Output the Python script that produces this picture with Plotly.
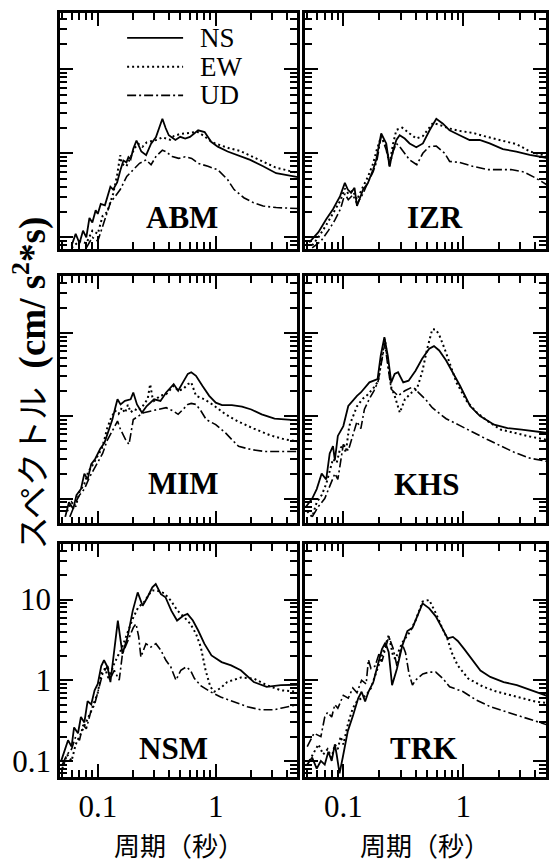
import plotly.graph_objects as go

# ---------------- data (period s, spectrum cm/s^2*s) ----------------
abm_ns_T = [0.06,0.065,0.07,0.075,0.08,0.085,0.09,0.096,0.10,0.106,0.115,0.128,0.135,0.146,0.155,0.165,0.175,0.182,0.19,0.20,0.213,0.225,0.234,0.257,0.27,0.283,0.311,0.332,0.353,0.376,0.40,0.455,0.50,0.551,0.605,0.709,0.805,0.914,1.04,1.26,1.52,1.96,2.52,3.25,5.0]
abm_ns_V = [0.08,0.11,0.085,0.12,0.10,0.17,0.15,0.21,0.19,0.25,0.24,0.40,0.37,0.45,0.62,0.82,0.78,0.90,0.85,1.13,1.42,1.15,1.05,0.95,1.15,1.30,1.55,2.06,2.58,2.0,1.64,1.44,1.57,1.50,1.57,1.88,1.79,1.37,1.20,1.05,0.96,0.835,0.70,0.58,0.52]
abm_ew_T = [0.06,0.07,0.08,0.09,0.10,0.11,0.12,0.135,0.146,0.155,0.16,0.175,0.19,0.205,0.22,0.24,0.26,0.29,0.32,0.353,0.38,0.41,0.44,0.50,0.60,0.70,0.80,0.90,1.0,1.3,1.6,2.0,2.5,3.2,5.0]
abm_ew_V = [0.075,0.09,0.085,0.12,0.11,0.18,0.20,0.33,0.55,0.95,0.75,0.70,0.90,1.15,1.30,1.20,1.35,1.40,1.45,1.55,1.50,1.45,1.60,1.70,1.75,1.80,1.60,1.40,1.30,1.15,1.07,0.92,0.80,0.68,0.58]
abm_ud_T = [0.08,0.09,0.10,0.106,0.128,0.155,0.176,0.20,0.226,0.257,0.283,0.311,0.353,0.376,0.428,0.485,0.551,0.625,0.709,0.859,1.04,1.26,1.43,1.73,2.09,2.52,3.25,5.0]
abm_ud_V = [0.075,0.10,0.09,0.115,0.258,0.37,0.53,0.637,0.76,0.835,0.73,0.914,1.09,1.05,0.914,0.87,0.91,0.87,0.76,0.70,0.637,0.486,0.37,0.296,0.258,0.236,0.226,0.22]

izr_ns_T = [0.052,0.062,0.072,0.082,0.094,0.103,0.109,0.116,0.124,0.13,0.146,0.16,0.177,0.188,0.207,0.228,0.243,0.26,0.277,0.295,0.325,0.357,0.406,0.461,0.524,0.596,0.677,0.769,0.932,1.13,1.37,1.66,2.14,2.77,3.58,5.0]
izr_ns_V = [0.087,0.115,0.164,0.216,0.309,0.444,0.37,0.338,0.388,0.236,0.37,0.44,0.637,0.835,1.72,1.31,0.697,1.09,1.44,1.64,1.50,1.31,1.18,1.31,1.88,2.58,2.25,1.88,1.64,1.44,1.44,1.31,1.12,1.05,0.96,0.88]
izr_ew_T = [0.055,0.062,0.072,0.082,0.094,0.103,0.11,0.12,0.13,0.146,0.16,0.177,0.19,0.207,0.228,0.243,0.26,0.277,0.31,0.357,0.406,0.46,0.52,0.56,0.62,0.77,0.93,1.2,1.5,2.0,2.8,3.6,5.0]
izr_ew_V = [0.08,0.10,0.14,0.19,0.27,0.38,0.33,0.36,0.28,0.40,0.52,0.75,1.1,1.6,1.2,0.75,1.3,1.9,2.02,1.72,1.50,1.60,2.0,2.3,2.2,1.97,1.85,1.75,1.6,1.45,1.28,1.05,0.92]
izr_ud_T = [0.055,0.065,0.075,0.085,0.095,0.103,0.11,0.12,0.13,0.146,0.16,0.177,0.19,0.207,0.228,0.243,0.26,0.277,0.295,0.357,0.41,0.46,0.52,0.596,0.70,0.77,0.93,1.2,1.6,2.5,3.2,4.0,5.0]
izr_ud_V = [0.075,0.09,0.12,0.16,0.22,0.33,0.28,0.32,0.25,0.33,0.45,0.60,0.80,1.6,1.1,0.70,1.05,1.31,1.2,0.835,0.73,1.0,1.2,1.22,1.0,0.80,0.78,0.70,0.64,0.64,0.60,0.51,0.42]

mim_ns_T = [0.053,0.057,0.062,0.066,0.072,0.077,0.082,0.088,0.095,0.105,0.114,0.125,0.133,0.142,0.147,0.156,0.17,0.19,0.20,0.215,0.237,0.26,0.30,0.34,0.38,0.44,0.48,0.527,0.58,0.62,0.68,0.77,0.88,1.0,1.13,1.37,1.67,2.0,2.45,3.15,5.0]
mim_ns_V = [0.06,0.09,0.075,0.11,0.13,0.20,0.17,0.26,0.30,0.40,0.47,0.68,0.90,1.31,1.58,1.37,1.51,1.58,1.91,1.37,1.09,1.31,1.58,1.51,1.91,2.41,2.0,2.53,3.2,3.35,3.04,2.30,1.74,1.44,1.34,1.34,1.29,1.19,1.04,0.92,0.88]
mim_ew_T = [0.055,0.06,0.065,0.07,0.077,0.083,0.09,0.10,0.108,0.114,0.12,0.13,0.14,0.15,0.16,0.17,0.18,0.19,0.205,0.22,0.24,0.265,0.278,0.29,0.30,0.34,0.38,0.44,0.48,0.53,0.58,0.62,0.68,0.80,0.95,1.2,1.55,2.1,2.9,3.8,5.0]
mim_ew_V = [0.07,0.09,0.08,0.12,0.15,0.21,0.25,0.33,0.40,0.52,0.70,0.95,1.15,1.05,1.25,1.08,1.35,1.10,1.20,1.15,1.30,1.60,2.4,1.70,1.51,1.75,1.82,2.3,2.0,2.1,2.4,2.53,1.74,1.58,1.35,1.05,0.85,0.70,0.58,0.52,0.49]
mim_ud_T = [0.058,0.065,0.07,0.077,0.085,0.092,0.10,0.11,0.12,0.13,0.14,0.147,0.156,0.172,0.184,0.20,0.245,0.316,0.38,0.436,0.48,0.527,0.58,0.62,0.68,0.75,0.83,1.0,1.21,1.37,1.56,2.0,2.6,3.4,5.0]
mim_ud_V = [0.06,0.09,0.11,0.13,0.18,0.22,0.27,0.35,0.50,0.62,0.75,0.86,0.68,0.515,0.45,0.90,1.09,1.19,1.25,1.14,1.04,1.19,1.37,1.41,1.37,1.14,0.90,0.78,0.62,0.515,0.427,0.39,0.37,0.37,0.37]

khs_ns_T = [0.049,0.055,0.06,0.066,0.072,0.077,0.082,0.085,0.09,0.10,0.11,0.116,0.13,0.14,0.155,0.165,0.193,0.205,0.22,0.235,0.251,0.268,0.286,0.316,0.35,0.40,0.454,0.52,0.57,0.63,0.72,0.82,0.94,1.14,1.38,1.81,2.34,3.07,4.0,5.0]
khs_ns_V = [0.08,0.10,0.13,0.20,0.17,0.35,0.43,0.29,0.57,0.75,1.31,1.44,1.74,1.91,2.30,2.53,2.77,5.3,8.9,5.3,2.53,3.19,3.35,2.53,2.65,3.5,4.87,6.45,6.93,6.14,4.64,3.35,2.30,1.31,0.99,0.78,0.71,0.68,0.65,0.62]
khs_ew_T = [0.05,0.055,0.06,0.066,0.072,0.077,0.082,0.088,0.094,0.10,0.105,0.112,0.12,0.13,0.145,0.16,0.18,0.195,0.21,0.222,0.235,0.251,0.268,0.296,0.326,0.372,0.41,0.454,0.50,0.552,0.59,0.63,0.70,0.77,0.88,1.07,1.3,1.6,2.05,2.7,3.6,5.0]
khs_ew_V = [0.07,0.06,0.09,0.11,0.15,0.22,0.30,0.27,0.40,0.45,0.36,0.75,0.95,1.3,1.6,1.8,2.2,2.6,5.0,8.5,4.5,2.2,1.74,1.09,1.58,1.91,2.1,3.35,6.4,11.1,11.0,9.5,6.4,4.4,2.5,1.5,1.09,0.86,0.68,0.62,0.56,0.51]
khs_ud_T = [0.055,0.062,0.07,0.077,0.085,0.09,0.095,0.10,0.11,0.12,0.13,0.14,0.15,0.165,0.18,0.195,0.21,0.222,0.235,0.251,0.286,0.326,0.372,0.40,0.424,0.484,0.552,0.64,0.72,0.94,1.22,1.59,2.07,2.68,3.5,5.0]
khs_ud_V = [0.06,0.08,0.10,0.14,0.20,0.17,0.30,0.45,0.38,0.60,0.85,0.70,1.2,1.6,2.0,2.6,4.5,7.5,4.0,2.09,1.74,2.0,2.2,2.1,1.9,1.58,1.25,1.05,0.92,0.76,0.62,0.515,0.43,0.36,0.31,0.28]

nsm_ns_T = [0.049,0.052,0.056,0.06,0.063,0.068,0.072,0.077,0.082,0.088,0.094,0.10,0.107,0.113,0.121,0.128,0.138,0.148,0.162,0.179,0.198,0.218,0.24,0.264,0.29,0.31,0.343,0.375,0.42,0.47,0.53,0.576,0.64,0.71,0.80,0.92,1.12,1.35,1.63,2.1,2.7,3.56,5.0]
nsm_ns_V = [0.10,0.13,0.18,0.15,0.26,0.22,0.35,0.30,0.55,0.50,0.75,0.90,1.5,1.77,1.46,0.95,2.35,5.5,2.13,3.43,7.3,12.3,8.4,10.7,14.2,15.6,11.7,10.7,7.3,5.5,6.3,6.65,5.5,4.14,2.84,2.03,1.68,1.53,1.33,0.95,0.83,0.87,0.88]
nsm_ew_T = [0.05,0.055,0.06,0.065,0.07,0.075,0.08,0.087,0.094,0.10,0.107,0.115,0.125,0.135,0.148,0.16,0.18,0.20,0.22,0.25,0.27,0.292,0.32,0.343,0.366,0.416,0.474,0.54,0.61,0.68,0.747,0.82,0.90,0.97,1.1,1.25,1.63,2.1,2.7,3.56,5.0]
nsm_ew_V = [0.08,0.12,0.10,0.16,0.20,0.25,0.30,0.40,0.55,0.70,1.2,1.4,1.0,1.5,2.0,2.5,4.0,6.0,8.0,9.5,11.5,13.0,12.9,12.3,12.0,9.72,7.3,6.05,5.0,3.77,2.58,1.33,0.83,0.72,0.80,0.95,1.08,1.05,0.87,0.75,0.72]
nsm_ud_T = [0.05,0.055,0.06,0.065,0.07,0.075,0.08,0.087,0.094,0.10,0.11,0.121,0.13,0.138,0.152,0.162,0.179,0.20,0.211,0.222,0.232,0.256,0.282,0.311,0.343,0.378,0.416,0.46,0.506,0.56,0.61,0.66,0.75,0.90,1.1,1.43,1.85,2.4,3.1,3.56,5.0]
nsm_ud_V = [0.09,0.12,0.14,0.20,0.18,0.28,0.25,0.40,0.50,0.70,1.2,1.5,1.1,1.33,1.0,2.13,3.12,4.5,5.0,3.5,1.94,2.84,2.58,2.84,2.35,1.77,1.46,1.0,1.33,1.46,1.33,1.05,0.85,0.72,0.62,0.54,0.47,0.43,0.43,0.45,0.50]

trk_ns_T = [0.05,0.055,0.06,0.065,0.07,0.075,0.08,0.085,0.088,0.093,0.099,0.109,0.121,0.133,0.142,0.152,0.162,0.178,0.19,0.21,0.224,0.239,0.255,0.28,0.31,0.342,0.377,0.416,0.458,0.52,0.59,0.676,0.74,0.82,0.90,1.02,1.18,1.39,1.68,2.17,2.8,3.66,5.0]
trk_ns_V = [0.09,0.11,0.08,0.10,0.09,0.13,0.10,0.16,0.12,0.07,0.111,0.234,0.374,0.598,0.72,0.544,0.72,0.95,1.39,2.43,2.93,2.22,0.87,1.39,2.67,4.07,4.47,6.2,9.0,7.8,6.2,4.27,3.3,3.45,3.07,2.43,1.84,1.32,1.10,0.95,0.87,0.76,0.64]
trk_ew_T = [0.052,0.057,0.062,0.068,0.074,0.08,0.085,0.09,0.095,0.10,0.11,0.12,0.13,0.142,0.155,0.17,0.19,0.21,0.239,0.26,0.272,0.31,0.36,0.40,0.458,0.52,0.59,0.676,0.74,0.80,0.90,1.1,1.47,1.91,2.8,4.0,5.0]
trk_ew_V = [0.10,0.13,0.16,0.12,0.14,0.11,0.16,0.14,0.20,0.16,0.30,0.45,0.55,0.60,0.65,0.80,1.3,2.0,3.6,2.0,1.84,2.93,4.0,5.5,9.46,9.9,6.81,4.27,3.22,2.22,1.52,1.05,0.83,0.72,0.63,0.545,0.52]
trk_ud_T = [0.05,0.057,0.065,0.07,0.074,0.08,0.085,0.09,0.10,0.11,0.12,0.13,0.142,0.155,0.162,0.17,0.184,0.20,0.21,0.239,0.26,0.28,0.31,0.33,0.353,0.377,0.40,0.46,0.52,0.59,0.676,0.77,1.0,1.28,1.68,2.8,5.0]
trk_ud_V = [0.15,0.22,0.20,0.35,0.40,0.35,0.50,0.45,0.65,0.60,0.80,0.70,1.0,0.90,1.8,1.4,1.5,2.2,1.7,3.5,2.5,1.5,2.8,2.2,1.2,0.87,1.0,1.2,1.26,1.26,1.05,0.83,0.72,0.57,0.47,0.37,0.28]

station_names = ["ABM", "IZR", "MIM", "KHS", "NSM", "TRK"]
component_names = ["NS", "EW", "UD"]
x_tick_values = [0.1, 1]
y_tick_values = [0.1, 1, 10]

panels = [
    [(abm_ns_T, abm_ns_V), (abm_ew_T, abm_ew_V), (abm_ud_T, abm_ud_V)],
    [(izr_ns_T, izr_ns_V), (izr_ew_T, izr_ew_V), (izr_ud_T, izr_ud_V)],
    [(mim_ns_T, mim_ns_V), (mim_ew_T, mim_ew_V), (mim_ud_T, mim_ud_V)],
    [(khs_ns_T, khs_ns_V), (khs_ew_T, khs_ew_V), (khs_ud_T, khs_ud_V)],
    [(nsm_ns_T, nsm_ns_V), (nsm_ew_T, nsm_ew_V), (nsm_ud_T, nsm_ud_V)],
    [(trk_ns_T, trk_ns_V), (trk_ew_T, trk_ew_V), (trk_ud_T, trk_ud_V)],
]

# ---------------- styling / layout ----------------
line_styles = [
    dict(color="black", width=1.8, dash="solid"),
    dict(color="black", width=2.0, dash="2px,3px"),
    dict(color="black", width=1.6, dash="9px,3px,2px,3px"),
]
col_domains = [[0.0, 0.488], [0.504, 1.0]]
row_domains = [[0.691, 1.0], [0.332, 0.656], [0.0, 0.305]]
row_yranges = [[-1.14, 1.67], [-1.30, 1.69], [-1.20, 1.69]]
x_range = [-1.32, 0.69]
label_pos = [(0.515, 0.134), (0.54, 0.134), (0.52, 0.16), (0.506, 0.157), (0.477, 0.124), (0.49, 0.124)]

SERIF = "Liberation Serif, Times New Roman, serif"
CJK = "Noto Sans CJK JP"

fig = go.Figure()
layout = dict(
    width=560, height=863,
    margin=dict(l=60, r=14, t=10, b=86),
    paper_bgcolor="white", plot_bgcolor="white",
    showlegend=False,
    annotations=[], shapes=[],
)

for i, series in enumerate(panels):
    r, c = divmod(i, 2)
    k = i + 1
    xa = "x" if k == 1 else f"x{k}"
    ya = "y" if k == 1 else f"y{k}"
    for j, (T, V) in enumerate(series):
        fig.add_trace(go.Scatter(x=T, y=V, mode="lines", line=line_styles[j],
                                 name=component_names[j], xaxis=xa, yaxis=ya,
                                 hoverinfo="skip"))
    common = dict(type="log", showline=True, linewidth=2.5, linecolor="black",
                  mirror="allticks", ticks="inside", tickwidth=1.8, ticklen=13,
                  tickcolor="black", showgrid=False, zeroline=False,
                  tickfont=dict(family=SERIF, size=31, color="black"),
                  minor=dict(ticks="inside", ticklen=7, tickwidth=1.5,
                             tickcolor="black", showgrid=False))
    xkey = "xaxis" if k == 1 else f"xaxis{k}"
    ykey = "yaxis" if k == 1 else f"yaxis{k}"
    layout[xkey] = dict(common, domain=col_domains[c], range=x_range,
                        anchor=ya, tickmode="array", tickvals=x_tick_values,
                        ticktext=["0.1", "1"], showticklabels=(r == 2))
    layout[ykey] = dict(common, domain=row_domains[r], range=row_yranges[r],
                        anchor=xa, tickmode="array", tickvals=y_tick_values,
                        ticktext=["0.1", "1", "10"],
                        showticklabels=(r == 2 and c == 0))
    layout[xkey]["minor"] = dict(common["minor"], tickmode="array",
                                 tickvals=[0.05, 0.06, 0.07, 0.08, 0.09, 0.2, 0.3, 0.4, 0.5, 0.6, 0.7, 0.8, 0.9, 2, 3, 4, 5])
    layout[ykey]["minor"] = dict(common["minor"], tickmode="array",
                                 tickvals=[0.07, 0.08, 0.09, 0.2, 0.3, 0.4, 0.5, 0.6, 0.7, 0.8, 0.9,
                                           2, 3, 4, 5, 6, 7, 8, 9, 20, 30, 40])
    lx, ly = label_pos[i]
    layout["annotations"].append(dict(
        text=f"<b>{station_names[i]}</b>", x=lx, y=ly,
        xref=f"{xa} domain", yref=f"{ya} domain", showarrow=False,
        xanchor="center", yanchor="middle",
        font=dict(family=SERIF, size=31, color="black")))
    if r == 2:
        layout["annotations"].append(dict(
            text="周期（秒）", x=0.5, y=-0.29, xref=f"{xa} domain",
            yref=f"{ya} domain", showarrow=False, xanchor="center",
            yanchor="middle", font=dict(family=CJK, size=26, color="black")))

# legend inside the ABM panel
leg_y = [0.895, 0.772, 0.651]
for j in range(3):
    layout["shapes"].append(dict(type="line", xref="x domain", yref="y domain",
                                 x0=0.283, x1=0.519, y0=leg_y[j], y1=leg_y[j],
                                 line=line_styles[j]))
    layout["annotations"].append(dict(
        text=component_names[j], x=0.58, y=leg_y[j], xref="x domain",
        yref="y domain", showarrow=False, xanchor="left", yanchor="middle",
        font=dict(family=SERIF, size=27, color="black")))

# y title
layout["annotations"].append(dict(
    text=("<span style='font-family:Noto Sans CJK JP;font-size:33px'>スペクトル</span>  "
          "<b>(cm/ s<sup>2</sup>*s)</b>"),
    x=-0.060, y=0.516, xref="paper", yref="paper", showarrow=False,
    textangle=-90, xanchor="center", yanchor="middle",
    font=dict(family=SERIF, size=37, color="black")))

fig.update_layout(**layout)
fig.write_html("out.html", config={"displayModeBar": False},
               post_script="document.body.style.margin='0';document.body.style.overflow='hidden';")
